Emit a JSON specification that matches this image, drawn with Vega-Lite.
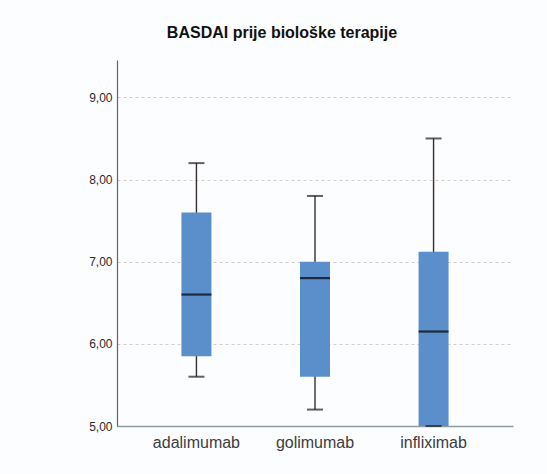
{
  "$schema": "https://vega.github.io/schema/vega-lite/v6.json",
  "width": 396,
  "height": 366,
  "autosize": "none",
  "padding": {"left": 117, "top": 60, "right": 34, "bottom": 48},
  "background": "#fcfdfe",
  "title": {
    "text": "BASDAI prije biološke terapije",
    "font": "Liberation Sans",
    "fontSize": 16,
    "fontWeight": "bold",
    "color": "#111111",
    "baseline": "alphabetic",
    "offset": 6,
    "dx": -33
  },
  "config": {
    "view": {"stroke": null},
    "axisY": {
      "labelFont": "Liberation Sans",
      "labelFontSize": 12,
      "labelColor": "#2a2a2a",
      "labelPadding": 5,
      "ticks": false,
      "domainColor": "#5a6a6c",
      "domainWidth": 1.2,
      "grid": true,
      "gridColor": "#d6cdc7",
      "gridDash": [3, 3],
      "gridWidth": 1,
      "labelExpr": "replace(format(datum.value, '.2f'), '.', ',')"
    },
    "axisX": {
      "labelFont": "Liberation Sans",
      "labelFontSize": 16,
      "labelColor": "#3c3c3c",
      "labelPadding": 8,
      "labelAngle": 0,
      "ticks": false,
      "domainColor": "#8e9ca4",
      "domainWidth": 1.5,
      "grid": false
    }
  },
  "data": {
    "values": [
      {"lijek": "adalimumab", "min": 5.6, "q1": 5.85, "median": 6.6, "q3": 7.6, "max": 8.2},
      {"lijek": "golimumab", "min": 5.2, "q1": 5.6, "median": 6.8, "q3": 7.0, "max": 7.8},
      {"lijek": "infliximab", "min": 5.0, "q1": 5.0, "median": 6.15, "q3": 7.12, "max": 8.5}
    ]
  },
  "encoding": {
    "x": {
      "field": "lijek",
      "type": "nominal",
      "scale": {"paddingInner": 0, "paddingOuter": 0.17},
      "axis": {"title": null}
    }
  },
  "layer": [
    {
      "mark": {"type": "rule", "color": "#3a2f2c", "strokeWidth": 1.4},
      "encoding": {
        "y": {
          "field": "min",
          "type": "quantitative",
          "scale": {"domain": [5, 9.455], "nice": false, "zero": false},
          "axis": {"title": null, "values": [5, 6, 7, 8, 9]}
        },
        "y2": {"field": "max"}
      }
    },
    {
      "mark": {"type": "bar", "size": 30, "color": "#5b8fcc"},
      "encoding": {
        "y": {"field": "q1", "type": "quantitative", "axis": {"title": null}},
        "y2": {"field": "q3"}
      }
    },
    {
      "mark": {"type": "tick", "size": 30, "thickness": 2.2, "color": "#000000"},
      "encoding": {
        "y": {"field": "median", "type": "quantitative", "axis": {"title": null}}
      }
    },
    {
      "mark": {"type": "tick", "size": 16, "thickness": 2, "color": "#1e1e1e"},
      "encoding": {
        "y": {"field": "min", "type": "quantitative", "axis": {"title": null}}
      }
    },
    {
      "mark": {"type": "tick", "size": 16, "thickness": 2, "color": "#1e1e1e"},
      "encoding": {
        "y": {"field": "max", "type": "quantitative", "axis": {"title": null}}
      }
    }
  ]
}
